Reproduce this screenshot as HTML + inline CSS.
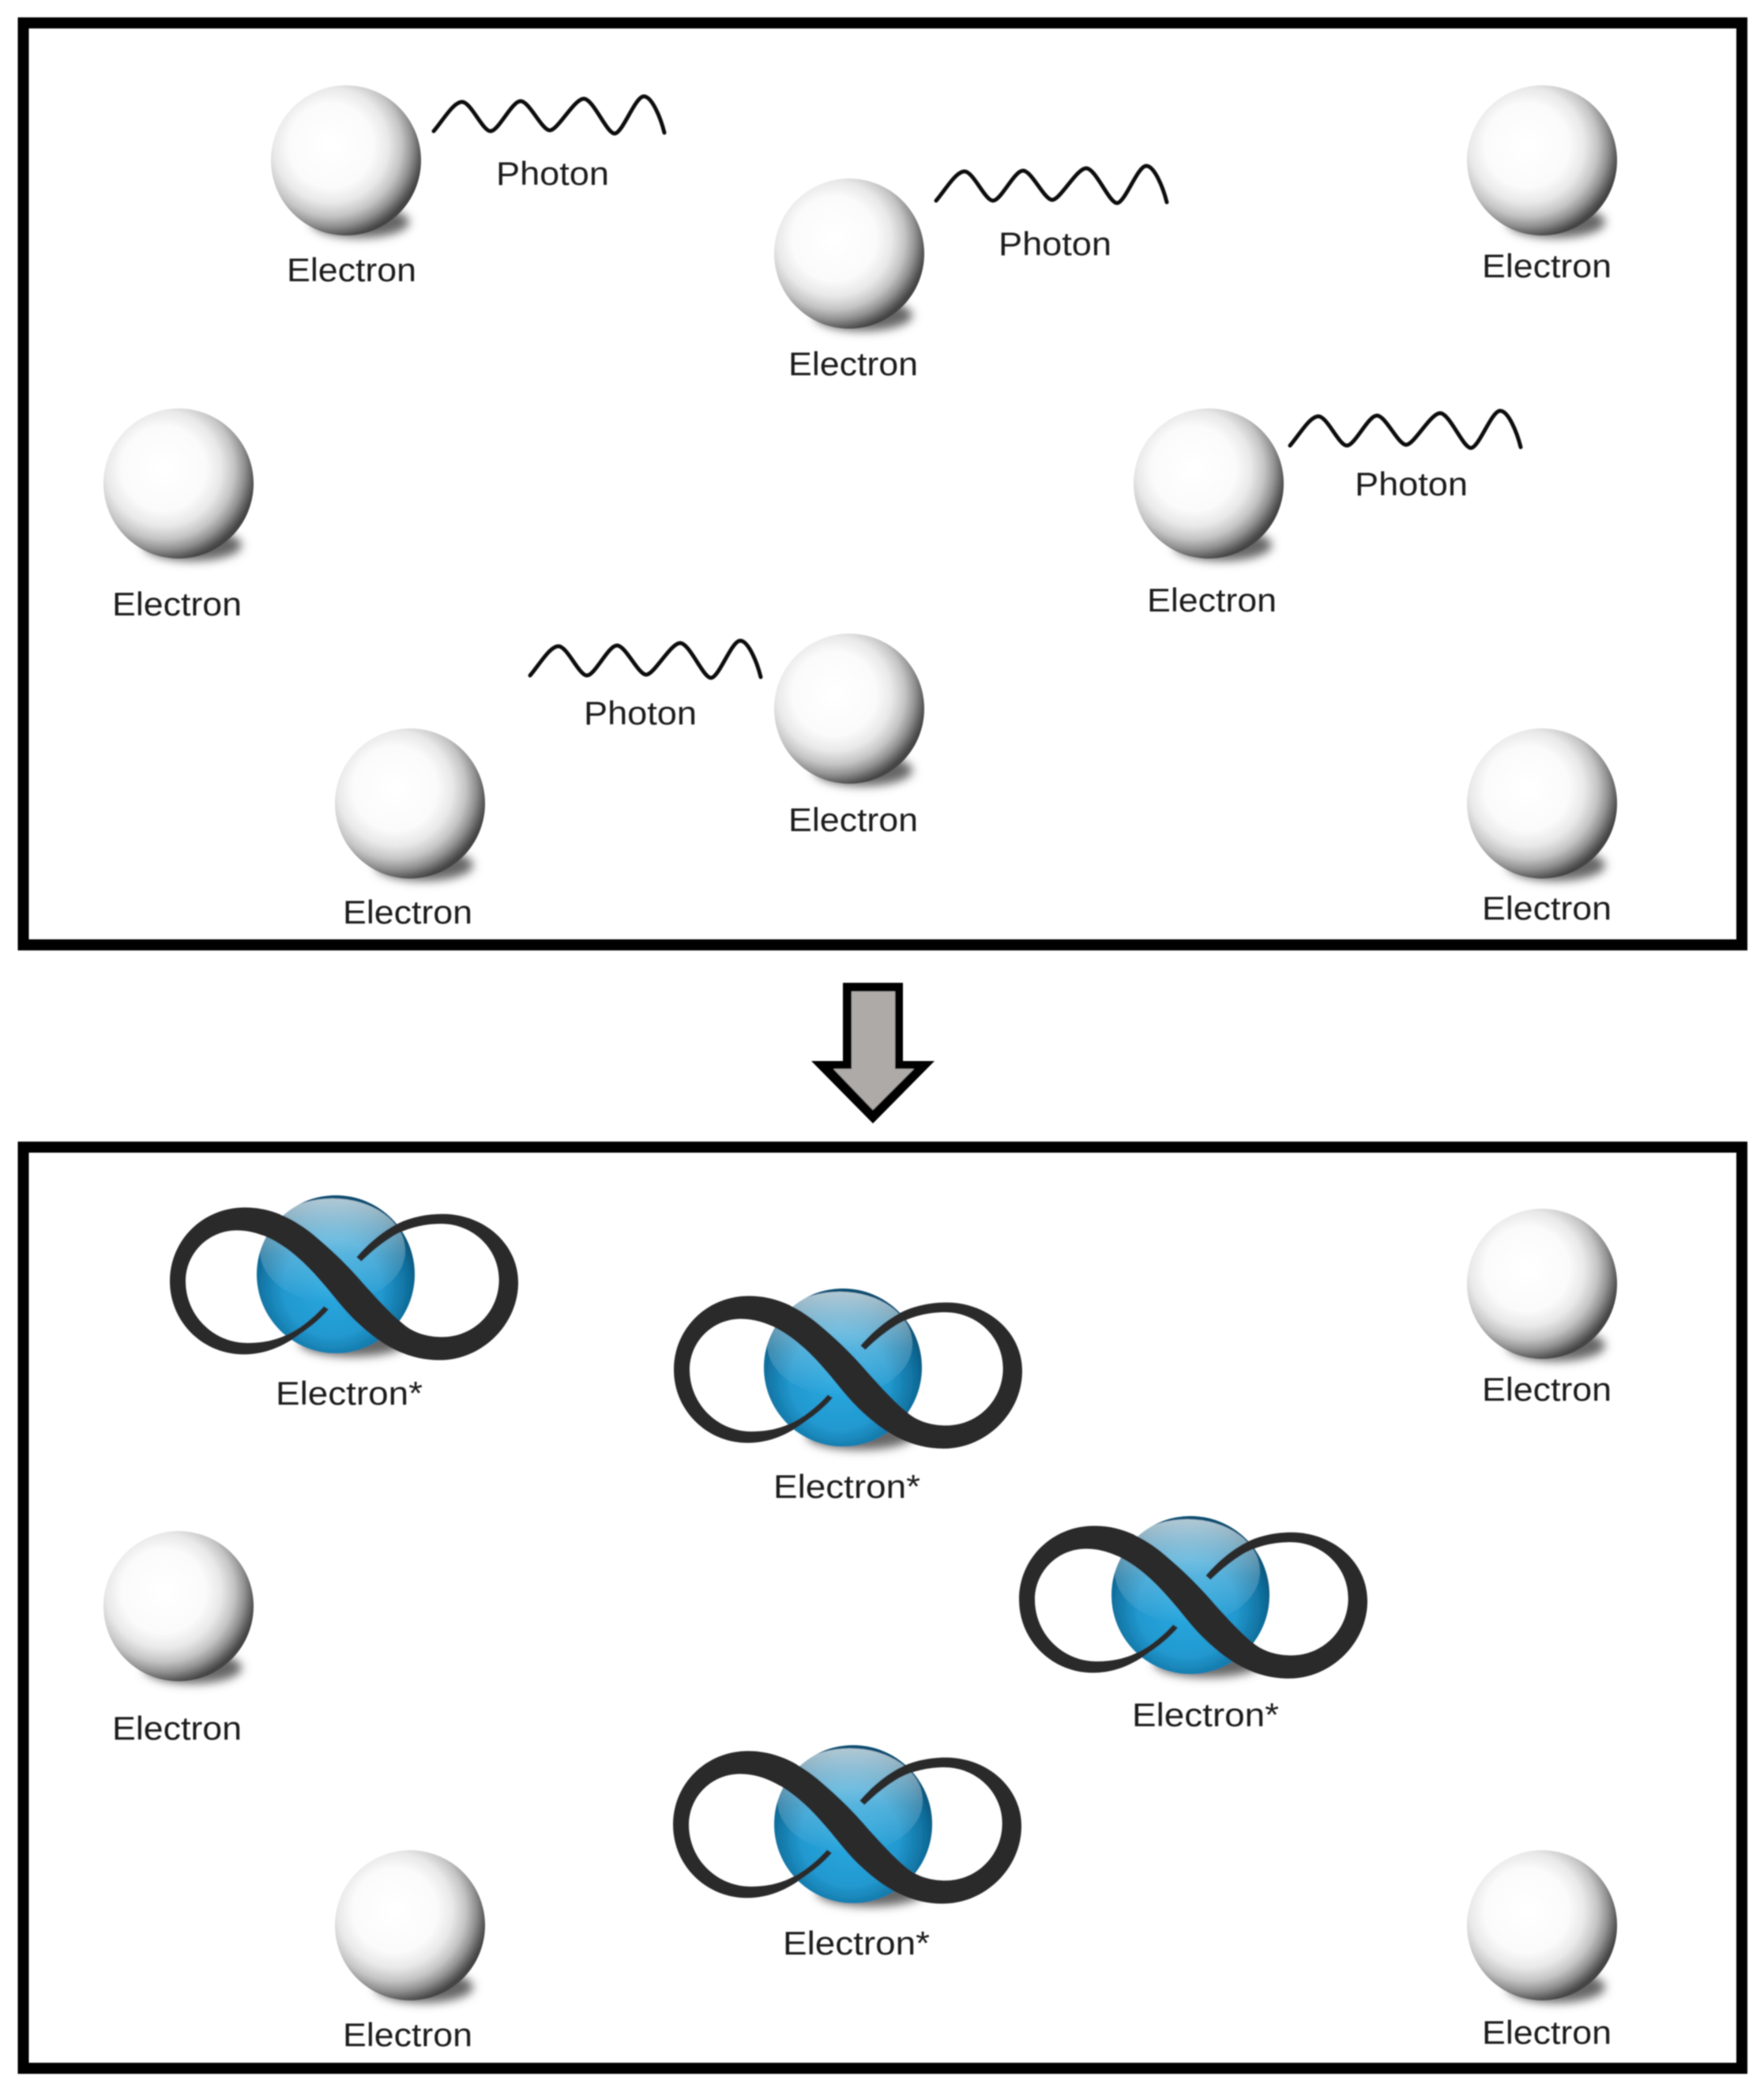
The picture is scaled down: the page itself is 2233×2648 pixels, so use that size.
<!DOCTYPE html>
<html>
<head>
<meta charset="utf-8">
<style>
html,body{margin:0;padding:0;background:#fff;width:2233px;height:2648px;overflow:hidden}
svg{display:block}
text{font-family:"Liberation Sans",sans-serif;font-size:42px;fill:#1c1c1c}
</style>
</head>
<body>
<svg width="2233" height="2648" viewBox="0 0 2233 2648" xmlns="http://www.w3.org/2000/svg">
<defs>
<filter id="soft" x="-5%" y="-5%" width="110%" height="110%"><feGaussianBlur stdDeviation="0.9"/></filter>
<filter id="sh" x="-40%" y="-80%" width="180%" height="260%"><feGaussianBlur stdDeviation="6"/></filter>
<radialGradient id="ws" cx="0.4" cy="0.4" r="0.62">
<stop offset="0" stop-color="#ffffff"/>
<stop offset="0.45" stop-color="#fbfbfb"/>
<stop offset="0.62" stop-color="#e8e8e8"/>
<stop offset="0.76" stop-color="#c4c4c4"/>
<stop offset="0.87" stop-color="#919191"/>
<stop offset="0.96" stop-color="#5a5a5a"/>
<stop offset="1" stop-color="#454545"/>
</radialGradient>
<radialGradient id="bs" cx="0.48" cy="0.58" r="0.62">
<stop offset="0" stop-color="#29a9e1"/>
<stop offset="0.5" stop-color="#2299d0"/>
<stop offset="0.78" stop-color="#0f6e9c"/>
<stop offset="1" stop-color="#033c5a"/>
</radialGradient>
<linearGradient id="hl" x1="0" y1="0" x2="0" y2="1">
<stop offset="0" stop-color="#fff" stop-opacity="0.68"/>
<stop offset="0.55" stop-color="#fff" stop-opacity="0.22"/>
<stop offset="1" stop-color="#fff" stop-opacity="0"/>
</linearGradient>
<g id="e">
<ellipse cx="18" cy="78" rx="62" ry="20" fill="#666" filter="url(#sh)"/>
<circle cx="0" cy="0" r="95" fill="url(#ws)"/>
</g>
<g id="b">
<ellipse cx="22" cy="86" rx="68" ry="18" fill="#666" filter="url(#sh)"/>
<circle cx="0" cy="0" r="100" fill="url(#bs)"/>
<ellipse cx="-4" cy="-30" rx="92" ry="66" fill="url(#hl)"/>
</g>
<path id="inf" fill="#2b2b2b" d="M708,532 C675,570 640,598 600,625 C540,670 470,703 385,703 C230,703 105,580 105,425 C105,270 230,145 390,145 C500,145 590,195 670,265 C740,325 790,375 850,445 C900,500 950,555 1000,595 C1040,625 1090,637 1140,637 C1260,637 1355,540 1355,420 C1355,300 1255,207 1135,207 C1060,207 990,228 940,262 C900,288 865,318 832,350 L814,334 C850,292 900,245 960,212 C1010,185 1075,170 1140,170 C1300,170 1428,285 1428,430 C1428,590 1290,725 1130,725 C1000,725 900,660 820,585 C760,530 720,470 670,415 C600,335 490,232 360,232 C250,232 165,320 165,425 C165,555 270,660 400,660 C480,660 540,640 600,600 C635,575 665,548 690,520 Z"/>
<path id="w" fill="none" stroke="#111" stroke-width="5" stroke-linecap="round" d="M549,166 C561,152 574,129 585,129 C596,129 611,166 621,166 C631,166 648,128 659,128 C670,128 686,165 696,165 C706,165 727,125 739,125 C751,125 768,169 778,169 C788,169 804,122 815,122 C825,122 836,148 841,168"/>
</defs>

<rect width="2233" height="2648" fill="#fff"/>

<g filter="url(#soft)">
<rect x="29.5" y="29" width="2175.5" height="1167" fill="none" stroke="#000" stroke-width="14"/>
<rect x="29.5" y="1452" width="2175.5" height="1166" fill="none" stroke="#000" stroke-width="14"/>

<polygon points="1067,1244 1143,1244 1143,1343 1183,1343 1105,1422 1027,1343 1067,1343" fill="#000"/>
<polygon points="1078,1255 1133,1255 1133,1353 1157,1353 1105,1405 1055,1353 1078,1353" fill="#aeaaa8"/>

<use href="#e" x="438" y="203"/>
<use href="#e" x="1075" y="321"/>
<use href="#e" x="1952" y="203"/>
<use href="#e" x="226" y="612"/>
<use href="#e" x="1530" y="612"/>
<use href="#e" x="1075" y="897"/>
<use href="#e" x="519" y="1017"/>
<use href="#e" x="1952" y="1017"/>

<use href="#w"/>
<use href="#w" x="636" y="88"/>
<use href="#w" x="1084" y="398"/>
<use href="#w" x="122" y="689"/>

<use href="#e" x="1952" y="1625"/>
<use href="#e" x="226" y="2033"/>
<use href="#e" x="519" y="2437"/>
<use href="#e" x="1952" y="2437"/>

<use href="#b" x="425" y="1613"/>
<use href="#b" x="1067" y="1731"/>
<use href="#b" x="1507" y="2019"/>
<use href="#b" x="1080" y="2309"/>

<use href="#inf" transform="translate(180,1480) scale(0.33333)"/>
<use href="#inf" transform="translate(818,1592) scale(0.33333)"/>
<use href="#inf" transform="translate(1255,1883) scale(0.33333)"/>
<use href="#inf" transform="translate(817,2168) scale(0.33333)"/>

<text x="363" y="356" textLength="164" lengthAdjust="spacingAndGlyphs">Electron</text>
<text x="998" y="475" textLength="164" lengthAdjust="spacingAndGlyphs">Electron</text>
<text x="1876" y="351" textLength="164" lengthAdjust="spacingAndGlyphs">Electron</text>
<text x="142" y="779" textLength="164" lengthAdjust="spacingAndGlyphs">Electron</text>
<text x="1452" y="774" textLength="164" lengthAdjust="spacingAndGlyphs">Electron</text>
<text x="998" y="1052" textLength="164" lengthAdjust="spacingAndGlyphs">Electron</text>
<text x="434" y="1169" textLength="164" lengthAdjust="spacingAndGlyphs">Electron</text>
<text x="1876" y="1164" textLength="164" lengthAdjust="spacingAndGlyphs">Electron</text>

<text x="628" y="234" textLength="143" lengthAdjust="spacingAndGlyphs">Photon</text>
<text x="1264" y="323" textLength="143" lengthAdjust="spacingAndGlyphs">Photon</text>
<text x="1715" y="627" textLength="143" lengthAdjust="spacingAndGlyphs">Photon</text>
<text x="739" y="917" textLength="143" lengthAdjust="spacingAndGlyphs">Photon</text>

<text x="1876" y="1773" textLength="164" lengthAdjust="spacingAndGlyphs">Electron</text>
<text x="142" y="2202" textLength="164" lengthAdjust="spacingAndGlyphs">Electron</text>
<text x="434" y="2590" textLength="164" lengthAdjust="spacingAndGlyphs">Electron</text>
<text x="1876" y="2587" textLength="164" lengthAdjust="spacingAndGlyphs">Electron</text>

<text x="349" y="1778" textLength="186" lengthAdjust="spacingAndGlyphs">Electron*</text>
<text x="979" y="1896" textLength="186" lengthAdjust="spacingAndGlyphs">Electron*</text>
<text x="1433" y="2185" textLength="186" lengthAdjust="spacingAndGlyphs">Electron*</text>
<text x="991" y="2474" textLength="186" lengthAdjust="spacingAndGlyphs">Electron*</text>
</g>
</svg>
</body>
</html>
